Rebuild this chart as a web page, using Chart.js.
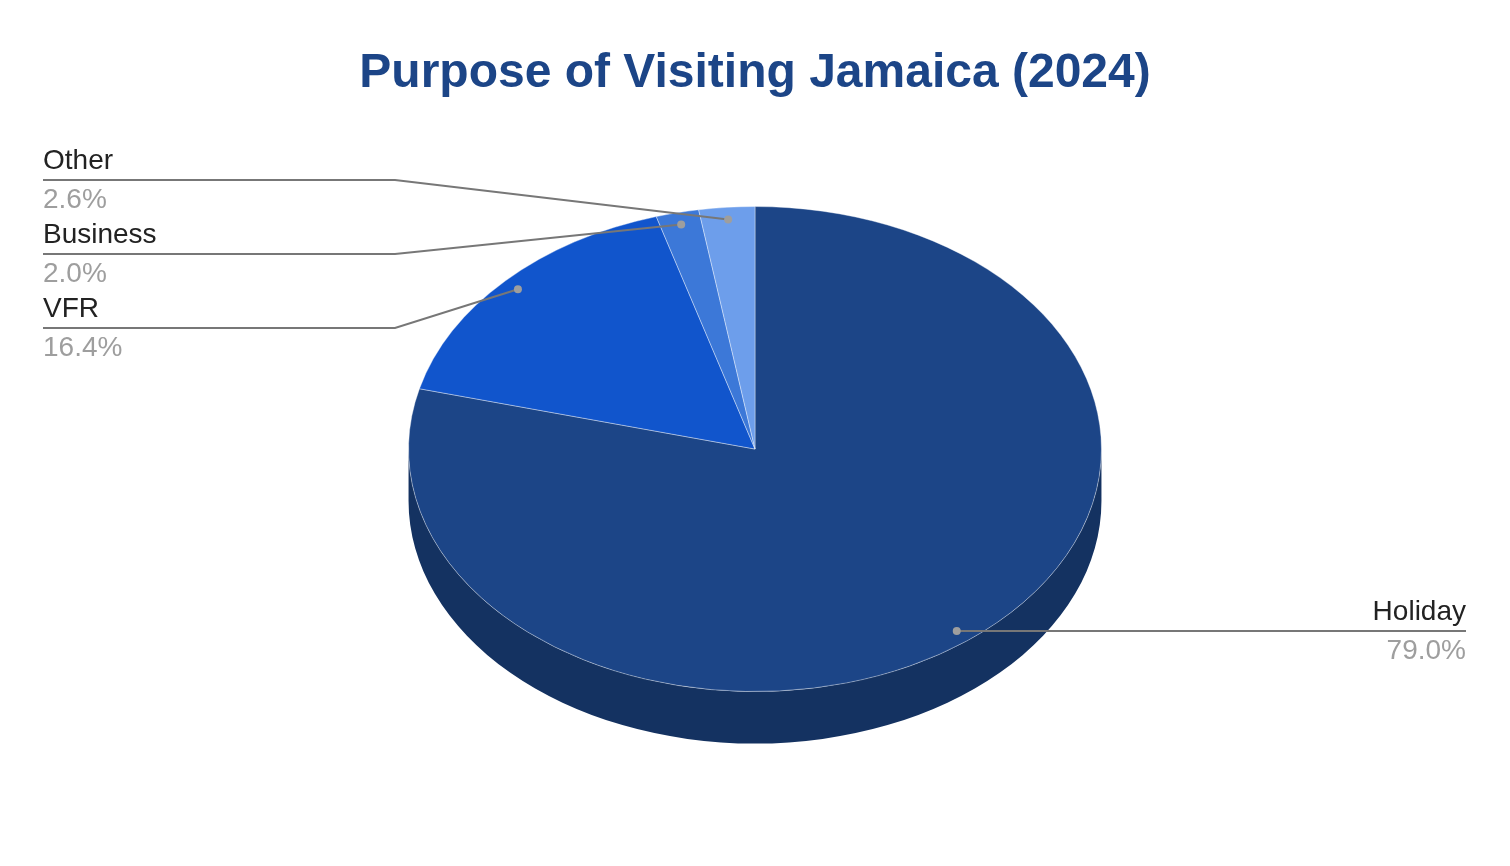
<!DOCTYPE html>
<html lang="en">
<head>
    <meta charset="UTF-8">
    <title>Purpose of Visiting Jamaica (2024)</title>
    <script src="https://cdn.jsdelivr.net/npm/chart.js"></script>
    <style>
        html, body { margin: 0; padding: 0; background: #fff; }
        #wrap { width: 1510px; height: 866px; position: relative; }
    </style>
</head>
<body>
<div id="wrap"><canvas id="purposeChart"></canvas></div>

<script>
    const purposes = ['Holiday', 'VFR', 'Business', 'Other'];
    const shares = [79.0, 16.4, 2.0, 2.6];
    const sliceColors = ['#1c4587', '#1155cc', '#3c78d8', '#6d9eeb'];

    const FONT = '"Liberation Sans", Arial, Helvetica, sans-serif';
    const SQUASH = 0.70;   // vertical ratio of the tilted pie
    const DEPTH = 52;      // thickness of the pie side

    function darken(hex, f) {
        const n = parseInt(hex.slice(1), 16);
        const r = Math.round(((n >> 16) & 255) * f);
        const g = Math.round(((n >> 8) & 255) * f);
        const b = Math.round((n & 255) * f);
        return 'rgb(' + r + ',' + g + ',' + b + ')';
    }

    // side walls + squash the top face into an ellipse
    const tiltPlugin = {
        id: 'tilt',
        beforeDatasetsDraw(chart) {
            const ctx = chart.ctx;
            const arcs = chart.getDatasetMeta(0).data;
            if (!arcs.length) return;
            const cx = arcs[0].x, cy = arcs[0].y;
            const rx = arcs[0].outerRadius, ry = rx * SQUASH;

            ctx.save();
            arcs.forEach((arc, i) => {
                const s = arc.startAngle, e = arc.endAngle;
                [0, 2 * Math.PI, -2 * Math.PI].forEach(off => {
                    const a = Math.max(s, off), b = Math.min(e, off + Math.PI);
                    if (b <= a) return;
                    ctx.beginPath();
                    ctx.ellipse(cx, cy, rx, ry, 0, a, b, false);
                    ctx.lineTo(cx + rx * Math.cos(b), cy + DEPTH + ry * Math.sin(b));
                    ctx.ellipse(cx, cy + DEPTH, rx, ry, 0, b, a, true);
                    ctx.closePath();
                    ctx.fillStyle = darken(sliceColors[i], 0.72);
                    ctx.fill();
                });
            });
            ctx.restore();

            ctx.save();
            ctx.translate(cx, cy);
            ctx.scale(1, SQUASH);
            ctx.translate(-cx, -cy);
        },
        afterDatasetsDraw(chart) {
            chart.ctx.restore();
        }
    };

    // callout labels
    const calloutPlugin = {
        id: 'callouts',
        afterDraw(chart) {
            const ctx = chart.ctx;
            const arcs = chart.getDatasetMeta(0).data;
            const left = [], right = [];
            arcs.forEach((arc, i) => {
                const m = (arc.startAngle + arc.endAngle) / 2;
                const r = arc.outerRadius * 0.95;
                const p = {
                    i: i,
                    x: arc.x + r * Math.cos(m),
                    y: arc.y + r * SQUASH * Math.sin(m)
                };
                (Math.cos(m) < 0 ? left : right).push(p);
            });
            left.sort((a, b) => a.y - b.y);
            left.forEach((p, k) => { p.lineY = 180 + k * 74; });
            right.forEach(p => { p.lineY = p.y; });

            ctx.save();
            const draw = (p, isLeft) => {
                const edge = isLeft ? 43 : 1466;
                const bend = isLeft ? 395 : 1115;
                ctx.strokeStyle = '#777777';
                ctx.lineWidth = 2;
                ctx.beginPath();
                ctx.moveTo(edge, p.lineY);
                ctx.lineTo(bend, p.lineY);
                ctx.lineTo(p.x, p.y);
                ctx.stroke();

                ctx.fillStyle = '#9e9e9e';
                ctx.beginPath();
                ctx.arc(p.x, p.y, 4, 0, Math.PI * 2);
                ctx.fill();

                ctx.textAlign = isLeft ? 'left' : 'right';
                ctx.textBaseline = 'alphabetic';
                ctx.font = '28px ' + FONT;
                ctx.fillStyle = '#222222';
                ctx.fillText(purposes[p.i], edge, p.lineY - 11);
                ctx.fillStyle = '#9e9e9e';
                ctx.fillText(shares[p.i].toFixed(1) + '%', edge, p.lineY + 28);
            };
            left.forEach(p => draw(p, true));
            right.forEach(p => draw(p, false));
            ctx.restore();
        }
    };

    const ctx = document.getElementById('purposeChart').getContext('2d');
    const purposeChart = new Chart(ctx, {
        type: 'pie',
        data: {
            labels: purposes,
            datasets: [{
                data: shares,
                backgroundColor: sliceColors,
                borderColor: 'rgba(255,255,255,0.45)',
                borderWidth: 1
            }]
        },
        options: {
            responsive: true,
            maintainAspectRatio: false,
            animation: false,
            layout: { padding: { top: 0, bottom: 70, left: 0, right: 0 } },
            plugins: {
                legend: { display: false },
                tooltip: { enabled: false },
                title: {
                    display: true,
                    text: 'Purpose of Visiting Jamaica (2024)',
                    color: '#1c4587',
                    font: { family: FONT, size: 48, weight: 'bold', lineHeight: 1.2 },
                    padding: { top: 44.5, bottom: 0 }
                }
            }
        },
        plugins: [tiltPlugin, calloutPlugin]
    });
</script>
</body>
</html>
